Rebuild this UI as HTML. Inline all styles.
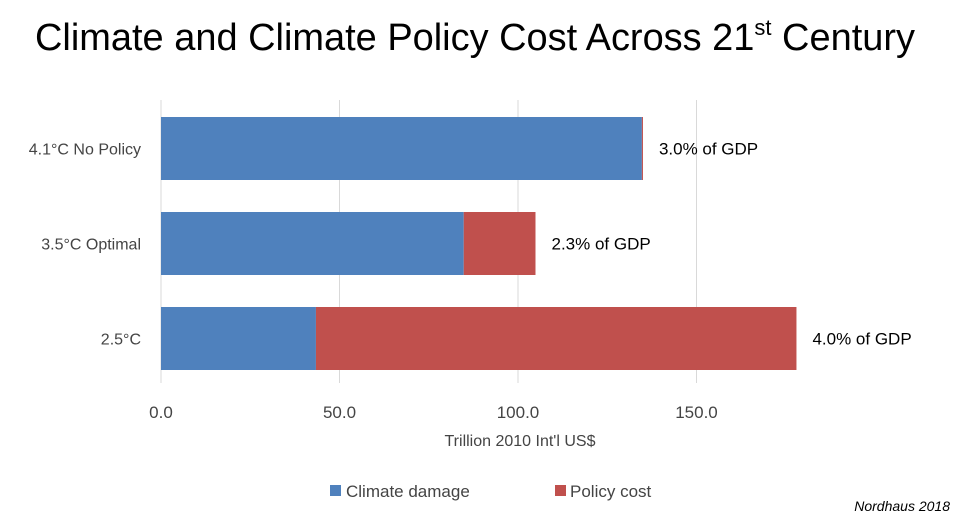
<!DOCTYPE html>
<html><head><meta charset="utf-8"><style>
body{margin:0;width:960px;height:519px;background:#fff;overflow:hidden;font-family:"Liberation Sans",sans-serif}
</style></head><body>
<svg width="960" height="519" style="position:absolute;left:0;top:0">
<text x="35" y="50" font-size="38" fill="#000" textLength="880" lengthAdjust="spacingAndGlyphs">Climate and Climate Policy Cost Across 21<tspan font-size="22" dy="-15">st</tspan><tspan dy="15"> Century</tspan></text>
<g id="grid"></g><g id="bars"></g><g id="labels"></g>
<text x="520" y="446" text-anchor="middle" font-size="16" fill="#444">Trillion 2010 Int'l US$</text>
<rect x="330" y="485" width="11" height="11" fill="#4f81bd"/>
<text x="346" y="497" font-size="17" fill="#444">Climate damage</text>
<rect x="555" y="485" width="11" height="11" fill="#c0504d"/>
<text x="570" y="497" font-size="17" fill="#444">Policy cost</text>
<text x="950" y="511" text-anchor="end" font-size="14" font-style="italic" fill="#000">Nordhaus 2018</text>
</svg>
<script>
const categories=["4.1°C No Policy","3.5°C Optimal","2.5°C"];
const damage=[134.7,84.8,43.4];
const policy=[0.3,20.1,134.6];
const gdpLabels=["3.0% of GDP","2.3% of GDP","4.0% of GDP"];
const ticks=[0,50,100,150];
const NS="http://www.w3.org/2000/svg";
const x0=161,ppu=3.57,plotTop=100,plotBot=383,bandTop=101,band=95,barH=63;
const X=v=>x0+v*ppu;
const Yb=i=>bandTop+i*band+(band-barH)/2;
function mk(t,a,p){const e=document.createElementNS(NS,t);for(const k in a)e.setAttribute(k,a[k]);document.querySelector(p).appendChild(e);return e;}
ticks.forEach(t=>{
 const l=mk('line',{x1:X(t),x2:X(t),y1:plotTop,y2:plotBot,stroke:'#d9d9d9','stroke-width':1},'#grid');
 
 
 const tx=mk('text',{x:X(t),y:418,'text-anchor':'middle','font-size':17,fill:'#444'},'#labels');
 tx.textContent=t.toFixed(1);
 
 
});
categories.forEach((c,i)=>{
 const y=Yb(i);
 const b=mk('rect',{x:X(0),y:y,width:damage[i]*ppu,height:barH,fill:'#4f81bd'},'#bars');
 
 
 const r=mk('rect',{x:X(damage[i]),y:y,width:policy[i]*ppu,height:barH,fill:'#c0504d'},'#bars');
 
 
 const cl=mk('text',{x:141,y:y+barH/2+6,'text-anchor':'end','font-size':16,fill:'#444'},'#labels');
 cl.textContent=c;
 
 
 const gl=mk('text',{x:X(damage[i]+policy[i])+16,y:y+barH/2+6,'font-size':17,fill:'#000'},'#labels');
 gl.textContent=gdpLabels[i];
 
 
});
</script>
</body></html>
